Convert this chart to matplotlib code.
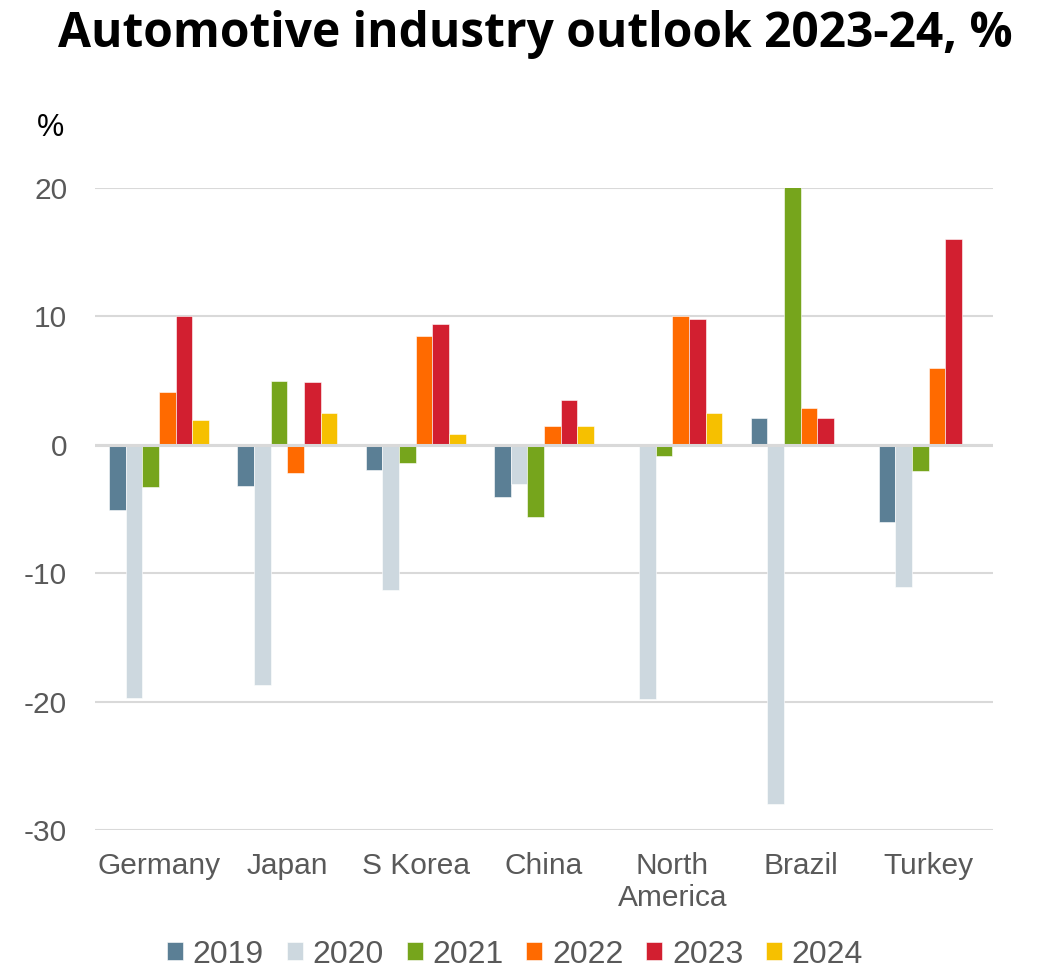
import numpy as np
import matplotlib
matplotlib.use("Agg")
import matplotlib.pyplot as plt

categories = ["Germany", "Japan", "S Korea", "China", "North\nAmerica", "Brazil", "Turkey"]
years = ["2019", "2020", "2021", "2022", "2023", "2024"]

v2019 = [-5.1, -3.2, -1.95, -4.1, 0.0, 2.1, -6.0]
v2020 = [-19.7, -18.7, -11.3, -3.05, -19.8, -28.0, -11.1]
v2021 = [-3.25, 5.0, -1.4, -5.6, -0.85, 20.05, -2.05]
v2022 = [4.15, -2.2, 8.5, 1.45, 10.0, 2.9, 5.95]
v2023 = [10.0, 4.9, 9.4, 3.45, 9.8, 2.1, 16.0]
v2024 = [1.95, 2.45, 0.85, 1.45, 2.5, 0.0, 0.0]

colors = ["#5B7F95", "#CDD8DF", "#76A51C", "#FF6A00", "#D21F30", "#F6C000"]
series = [v2019, v2020, v2021, v2022, v2023, v2024]

plt.rcParams["axes.unicode_minus"] = False

fig = plt.figure(figsize=(10.45, 9.72), dpi=100)
ax = fig.add_axes([0.0909, 0.1461, 0.8593, 0.6605])

x = np.arange(len(categories))
w = 0.13
for i, (vals, c, yr) in enumerate(zip(series, colors, years)):
    ax.bar(x + (i - 2.5) * w, vals, width=w, color=c, label=yr,
           edgecolor="white", linewidth=0.4, zorder=2)

ax.set_xlim(-0.5, len(categories) - 0.5)
ax.set_ylim(-30, 20)
ax.set_yticks([-30, -20, -10, 0, 10, 20])
ax.grid(axis="y", color="#D9D9D9", linewidth=1.5, zorder=0)
ax.axhline(0, color="#D9D9D9", linewidth=2.2, zorder=3)
ax.set_axisbelow(True)
for s in ax.spines.values():
    s.set_visible(False)
ax.tick_params(axis="both", length=0, labelsize=21.5, labelcolor="#595959")
ax.tick_params(axis="x", pad=16)
ax.tick_params(axis="y", pad=20)
ax.set_xticks(x)
ax.set_xticklabels(categories, fontfamily="Liberation Sans", linespacing=1.15)
for lbl in ax.get_yticklabels():
    lbl.set_fontfamily("Liberation Sans")

fig.text(0.512, 0.965, "Automotive industry outlook 2023-24, %", ha="center", va="center",
         fontsize=34.5, fontweight="bold", fontfamily="Open Sans")
fig.text(0.048, 0.868, "%", ha="center", va="center", fontsize=22,
         fontfamily="Liberation Sans", color="black")

handles, labels = ax.get_legend_handles_labels()
leg = fig.legend(handles, labels, loc="center", bbox_to_anchor=(0.493, 0.018), ncol=6,
                 frameon=False, handlelength=0.5, handleheight=0.5, handletextpad=0.3,
                 columnspacing=0.72, borderpad=0.0,
                 prop={"family": "Liberation Sans", "size": 23})
for t in leg.get_texts():
    t.set_color("#595959")

fig.savefig("out.png", dpi=100)
